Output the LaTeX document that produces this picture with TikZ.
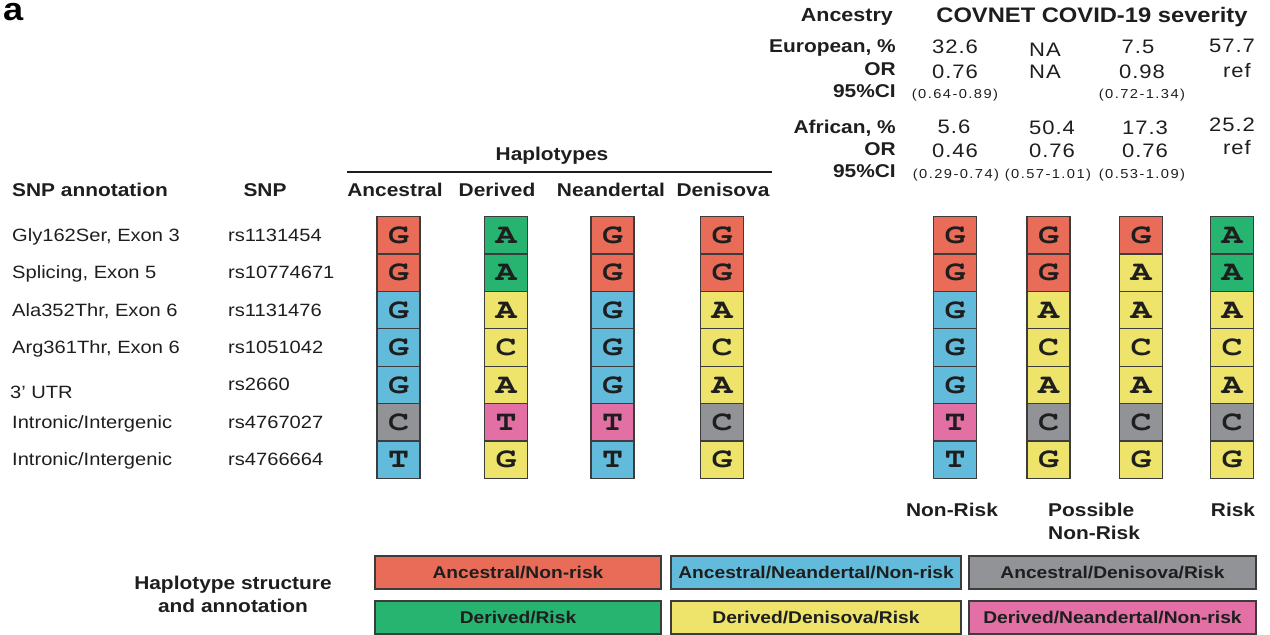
\documentclass[tikz,border=0pt]{standalone}
\usepackage{fontspec}
\setmainfont{Liberation Sans}[FakeStretch=1.13]
\newfontfamily\cifont{Liberation Sans}[FakeStretch=1.13,LetterSpace=11]
\newfontfamily\numfont{Liberation Sans}[FakeStretch=1.13,LetterSpace=5]
\newfontfamily\nucfont{TeX Gyre Cursor}[FakeStretch=1.25]
\definecolor{cRed}{RGB}{232,108,87}
\definecolor{cGreen}{RGB}{38,180,112}
\definecolor{cBlue}{RGB}{98,187,218}
\definecolor{cGray}{RGB}{146,147,151}
\definecolor{cYel}{RGB}{238,228,108}
\definecolor{cPink}{RGB}{226,112,165}
\definecolor{cEdge}{RGB}{60,60,60}
\definecolor{cText}{RGB}{30,30,30}
\tikzset{
  cell/.style={draw=cEdge, line width=1.2pt, minimum width=43pt, minimum height=37.4pt,
    inner sep=0pt, font=\nucfont\bfseries\fontsize{28}{28}\selectfont, text=cText},
  lab/.style={inner sep=0pt, yshift=-2pt, text=cText, font=\bfseries\fontsize{18.5}{18.5}\selectfont},
  reg/.style={inner sep=0pt, yshift=-2pt, text=cText, font=\fontsize{17.8}{17.8}\selectfont},
  num/.style={inner sep=0pt, yshift=-2.5pt, text=cText, anchor=mid, font=\numfont\fontsize{19.5}{19.5}\selectfont},
  ci/.style={inner sep=0pt, yshift=-2pt, text=cText, anchor=mid, font=\cifont\fontsize{13}{13}\selectfont},
  leg/.style={draw=cEdge, line width=1.2pt, minimum height=33pt, inner sep=0pt, text=cText,
    font=\bfseries\fontsize{17}{17}\selectfont},
}
\begin{document}
\begin{tikzpicture}[x=1pt,y=-1pt]
\useasboundingbox (0,0) rectangle (1270,635);
% panel letter
\node[inner sep=0pt, anchor=base west, font=\bfseries\fontsize{32}{32}\selectfont] (pa) at (3,20) {a};
% top table
\node[anchor=mid east, inner sep=0pt, yshift=-2pt, text=cText, font=\bfseries\fontsize{19}{19}\selectfont] (anc) at (893,17) {Ancestry};
\node[anchor=mid, inner sep=0pt, yshift=-2pt, text=cText, font=\bfseries\fontsize{21}{21}\selectfont] (title) at (1092,18) {COVNET COVID-19 severity};
\node[lab, anchor=mid east] (eu) at (896,48) {European, \%};
\node[lab, anchor=mid east] (or1) at (896,71) {OR};
\node[lab, anchor=mid east] (ci1) at (896,93) {95\%CI};
\node[lab, anchor=mid east] (af) at (896,129) {African, \%};
\node[lab, anchor=mid east] (or2) at (896,151) {OR};
\node[lab, anchor=mid east] (ci2) at (896,173) {95\%CI};
\node[num] (e1) at (955,48) {32.6};
\node[num] (e2) at (1045,51) {NA};
\node[num] (e3) at (1138,48) {7.5};
\node[num] (e4) at (1232,47) {57.7};
\node[num] (o1) at (955,73) {0.76};
\node[num] (o2) at (1045,73) {NA};
\node[num] (o3) at (1142,73) {0.98};
\node[num] (o4) at (1237,72) {ref};
\node[ci] (c1) at (955,94) {(0.64-0.89)};
\node[ci] (c3) at (1142,94) {(0.72-1.34)};
\node[num] (a1) at (954,128) {5.6};
\node[num] (a2) at (1052,129) {50.4};
\node[num] (a3) at (1145,129) {17.3};
\node[num] (a4) at (1232,126) {25.2};
\node[num] (b1) at (955,152) {0.46};
\node[num] (b2) at (1052,152) {0.76};
\node[num] (b3) at (1145,152) {0.76};
\node[num] (b4) at (1237,149) {ref};
\node[ci] (d1) at (956,174) {(0.29-0.74)};
\node[ci] (d2) at (1048,174) {(0.57-1.01)};
\node[ci] (d3) at (1142,174) {(0.53-1.09)};
% haplotype headers
\node[lab, anchor=mid] (hap) at (552,156) {Haplotypes};
\coordinate (hl) at (347,172);
\coordinate (hr) at (772,172);
\draw[line width=2.5pt, cText] (hl) -- (hr);
\node[lab, anchor=mid] (hAnc) at (395,192) {Ancestral};
\node[lab, anchor=mid] (hDer) at (497,192) {Derived};
\node[lab, anchor=mid] (hNea) at (611,192) {Neandertal};
\node[lab, anchor=mid] (hDen) at (723,192) {Denisova};
\node[lab, anchor=mid west] (hSA) at (12,192) {SNP annotation};
\node[lab, anchor=mid] (hSNP) at (265,192) {SNP};
% row labels
\node[reg, anchor=mid west] (r1) at (12,237) {Gly162Ser, Exon 3};
\node[reg, anchor=mid west] (r2) at (12,274) {Splicing, Exon 5};
\node[reg, anchor=mid west] (r3) at (12,312) {Ala352Thr, Exon 6};
\node[reg, anchor=mid west] (r4) at (12,349) {Arg361Thr, Exon 6};
\node[reg, anchor=mid west] (r5) at (10,394) {3’ UTR};
\node[reg, anchor=mid west] (r6) at (12,424) {Intronic/Intergenic};
\node[reg, anchor=mid west] (r7) at (12,461) {Intronic/Intergenic};
\node[reg, anchor=mid west] (s1) at (228,237) {rs1131454};
\node[reg, anchor=mid west] (s2) at (228,274) {rs10774671};
\node[reg, anchor=mid west] (s3) at (228,312) {rs1131476};
\node[reg, anchor=mid west] (s4) at (228,349) {rs1051042};
\node[reg, anchor=mid west] (s5) at (228,386) {rs2660};
\node[reg, anchor=mid west] (s6) at (228,424) {rs4767027};
\node[reg, anchor=mid west] (s7) at (228,461) {rs4766664};
% cells
\foreach \cx/\cid/\seq in {
  398.5/anc/{G/cRed,G/cRed,G/cBlue,G/cBlue,G/cBlue,C/cGray,T/cBlue},
  506/der/{A/cGreen,A/cGreen,A/cYel,C/cYel,A/cYel,T/cPink,G/cYel},
  612.5/nea/{G/cRed,G/cRed,G/cBlue,G/cBlue,G/cBlue,T/cPink,T/cBlue},
  722/den/{G/cRed,G/cRed,A/cYel,C/cYel,A/cYel,C/cGray,G/cYel},
  955/nr/{G/cRed,G/cRed,G/cBlue,G/cBlue,G/cBlue,T/cPink,T/cBlue},
  1048.5/pa/{G/cRed,G/cRed,A/cYel,C/cYel,A/cYel,C/cGray,G/cYel},
  1141/pb/{G/cRed,A/cYel,A/cYel,C/cYel,A/cYel,C/cGray,G/cYel},
  1232/rk/{A/cGreen,A/cGreen,A/cYel,C/cYel,A/cYel,C/cGray,G/cYel}} {
  \foreach \b/\c [count=\i from 0] in \seq {
    \node[cell, fill=\c] (\cid-\i) at (\cx, 235.4+37.37*\i) {\b};
  }
}
% bottom labels
\node[lab, anchor=mid] (lNR) at (952,512) {Non-Risk};
\node[lab, anchor=mid west] (lP1) at (1048,512) {Possible};
\node[lab, anchor=mid west] (lP2) at (1048,535) {Non-Risk};
\node[lab, anchor=mid] (lR) at (1233,512) {Risk};
% legend
\node[lab, align=center, font=\bfseries\fontsize{18.5}{23}\selectfont] (lt) at (233,592) {Haplotype structure\\and annotation};
\node[leg, fill=cRed, minimum width=286pt] (L1) at (518,572.5) {Ancestral/Non-risk};
\node[leg, fill=cBlue, minimum width=290pt] (L2) at (816,572.5) {Ancestral/Neandertal/Non-risk};
\node[leg, fill=cGray, minimum width=287pt] (L3) at (1112.5,572.5) {Ancestral/Denisova/Risk};
\node[leg, fill=cGreen, minimum width=286pt] (L4) at (518,617.5) {Derived/Risk};
\node[leg, fill=cYel, minimum width=290pt] (L5) at (816,617.5) {Derived/Denisova/Risk};
\node[leg, fill=cPink, minimum width=287pt] (L6) at (1112.5,617.5) {Derived/Neandertal/Non-risk};
\end{tikzpicture}
\end{document}
